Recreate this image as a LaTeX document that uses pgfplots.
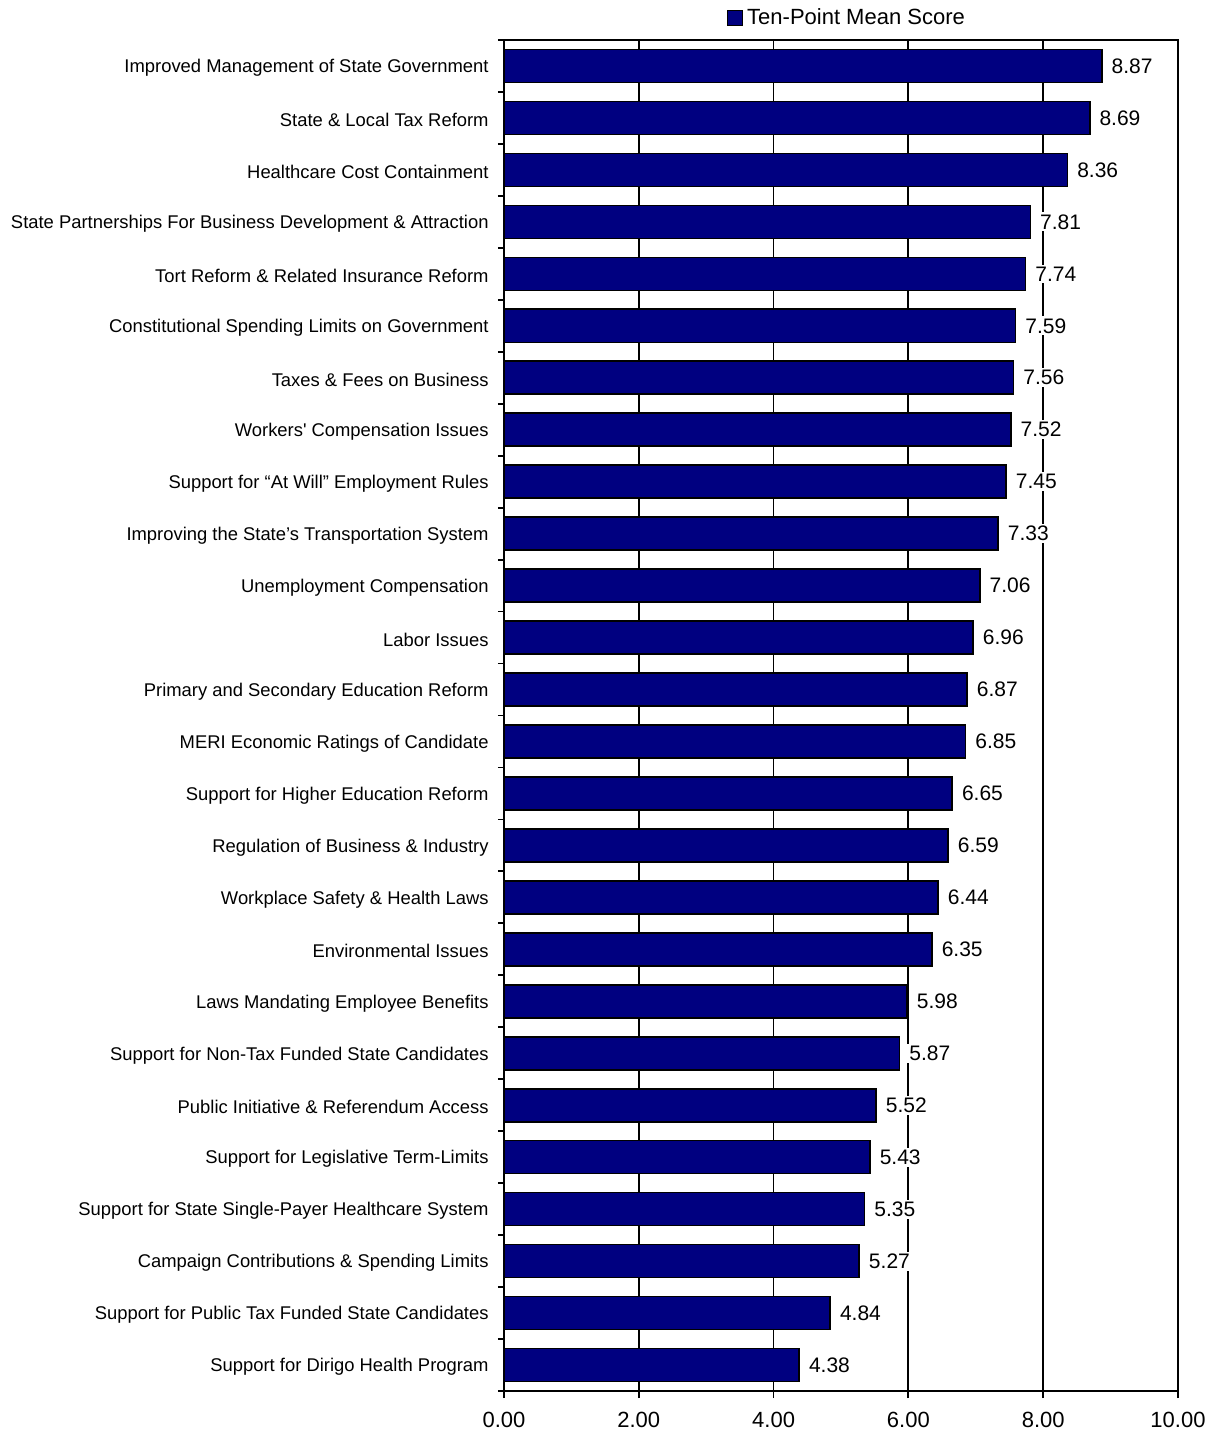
\documentclass[border=0pt]{standalone}
\usepackage{fontspec}
\setmainfont{Liberation Sans}[Ligatures=TeXOff]
\usepackage{pgfplots}
\pgfplotsset{compat=1.18}
\definecolor{barnavy}{RGB}{0,0,128}
\begin{document}
\begin{tikzpicture}
\path[use as bounding box] (-252pt,-25pt) rectangle (355.5pt,695.5pt);
\begin{axis}[
  at={(0,0)}, anchor=south west,
  scale only axis,
  width=337pt, height=675.5pt,
  xmin=0, xmax=10,
  ymin=-0.5, ymax=25.5,
  y dir=reverse,
  xtick={0,2,4,6,8,10},
  /pgf/number format/fixed, /pgf/number format/fixed zerofill,
  /pgf/number format/precision=2, /pgf/number format/assume math mode=true,
  xticklabel style={font=\fontsize{11}{13}\selectfont, yshift=-3.5pt},
  ytick={0,...,25},
  minor ytick={-0.5,0.5,...,25.5},
  major tick length=3.5pt,
  minor tick length=3pt,
  major y tick style={draw=none},
  tick align=outside,
  xtick pos=bottom, ytick pos=left,
  tick style={black, line width=0.9pt},
  xmajorgrids, grid style={black, line width=0.9pt},
  axis line style={line width=0.9pt},
  yticklabel style={font=\fontsize{9.2}{11}\selectfont, inner sep=0pt, xshift=-4pt, yshift=-1pt},
  yticklabels={
    Improved Management of State Government,
    State \& Local Tax Reform,
    Healthcare Cost Containment,
    State Partnerships For Business Development \& Attraction,
    Tort Reform \& Related Insurance Reform,
    Constitutional Spending Limits on Government,
    Taxes \& Fees on Business,
    Workers' Compensation Issues,
    Support for “At Will” Employment Rules,
    Improving the State’s Transportation System,
    Unemployment Compensation,
    Labor Issues,
    Primary and Secondary Education Reform,
    MERI Economic Ratings of Candidate,
    Support for Higher Education Reform,
    Regulation of Business \& Industry,
    Workplace Safety \& Health Laws,
    Environmental Issues,
    Laws Mandating Employee Benefits,
    Support for Non-Tax Funded State Candidates,
    Public Initiative \& Referendum Access,
    Support for Legislative Term-Limits,
    Support for State Single-Payer Healthcare System,
    Campaign Contributions \& Spending Limits,
    Support for Public Tax Funded State Candidates,
    Support for Dirigo Health Program},
  xbar, bar width=16.5pt,
  nodes near coords,
  nodes near coords align={horizontal},
  point meta=x,
  every node near coord/.append style={font=\fontsize{10.5}{12}\selectfont, fill=white, inner sep=1pt, xshift=3.5pt},
  legend style={at={(0.51,1)}, anchor=south, yshift=4pt, draw=none, fill=none,
    font=\fontsize{11}{13}\selectfont, inner sep=0pt},
  legend image code/.code={\draw[#1] (0pt,-3.75pt) rectangle (7.5pt,3.75pt);},
  legend cell align=left,
]
\addplot[draw=black, line width=0.8pt, fill=barnavy] coordinates {
(8.87,0) (8.69,1) (8.36,2) (7.81,3) (7.74,4) (7.59,5) (7.56,6) (7.52,7)
(7.45,8) (7.33,9) (7.06,10) (6.96,11) (6.87,12) (6.85,13) (6.65,14) (6.59,15)
(6.44,16) (6.35,17) (5.98,18) (5.87,19) (5.52,20) (5.43,21) (5.35,22) (5.27,23)
(4.84,24) (4.38,25)};
\addlegendentry{Ten-Point Mean Score}
\end{axis}
\end{tikzpicture}
\end{document}
